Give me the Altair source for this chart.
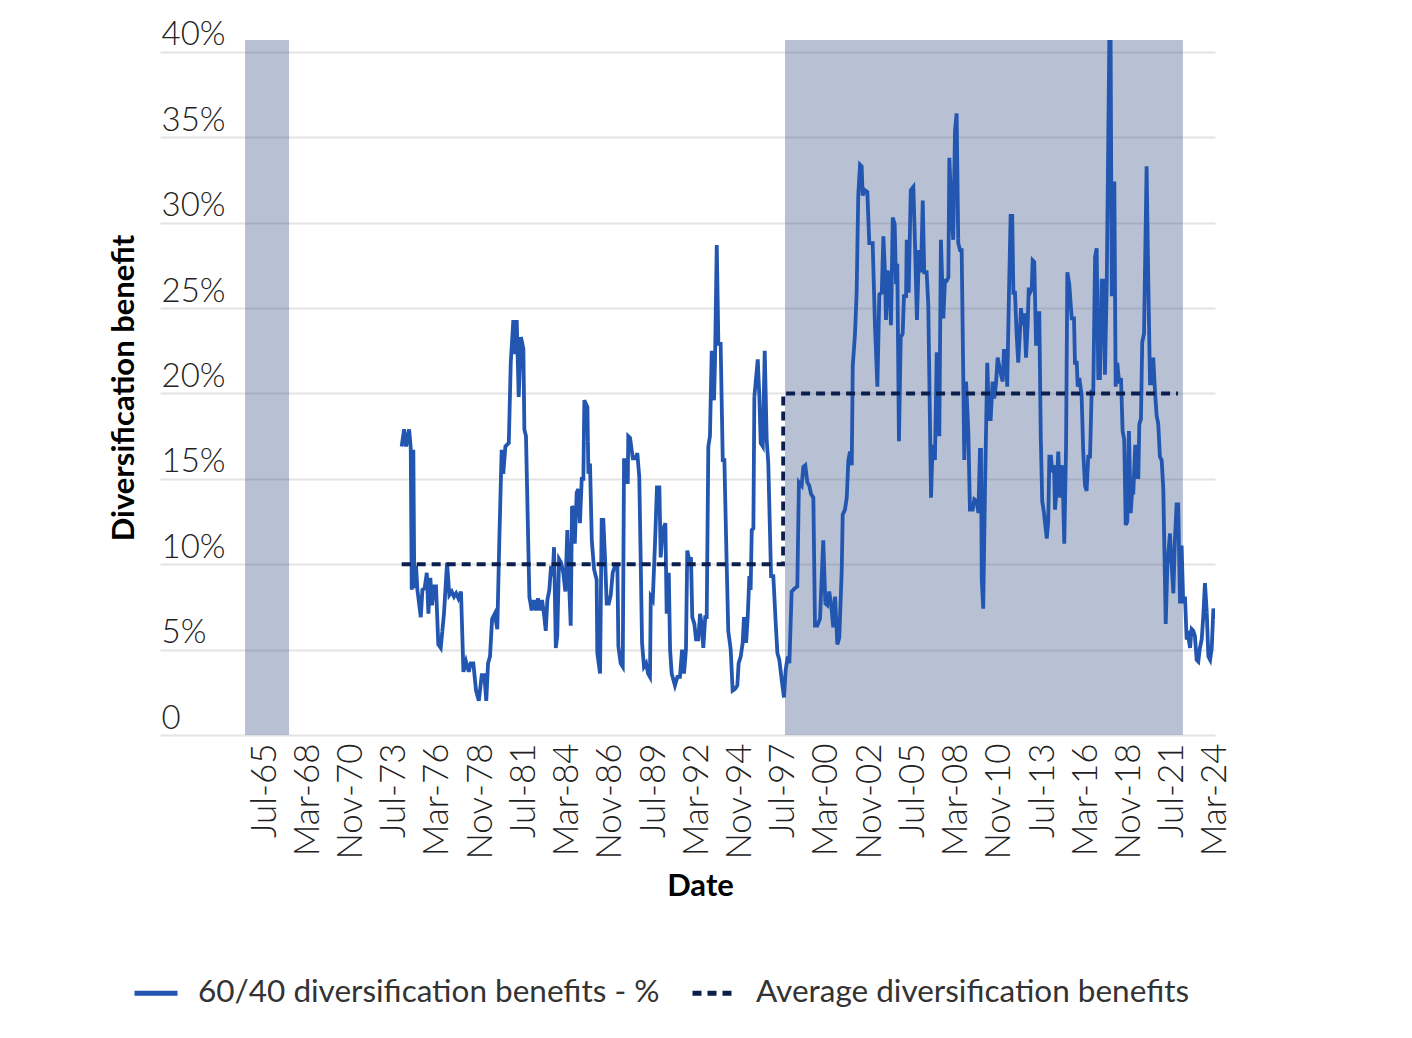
import altair as alt
import pandas as pd

# ---- data (decimal year, value in %) ----
T = [1973.99, 1974.14, 1974.26, 1974.45, 1974.55, 1974.61, 1974.71, 1974.77, 1974.88, 1974.96,
     1975.17, 1975.27, 1975.41, 1975.54, 1975.64, 1975.76, 1975.86, 1975.99, 1976.11, 1976.25,
     1976.40, 1976.60, 1976.79, 1976.93, 1977.08, 1977.22, 1977.35, 1977.49, 1977.65, 1977.80,
     1977.96, 1978.13, 1978.25, 1978.41, 1978.58, 1978.75, 1978.93, 1979.09, 1979.21, 1979.32,
     1979.44, 1979.57, 1979.73, 1979.89, 1980.02, 1980.16, 1980.26, 1980.39, 1980.60, 1980.72,
     1980.88, 1981.00, 1981.09, 1981.21, 1981.35, 1981.50, 1981.56, 1981.66, 1981.87, 1982.01,
     1982.16, 1982.28, 1982.40, 1982.53, 1982.65, 1982.77, 1982.88, 1982.98, 1983.10, 1983.21,
     1983.31, 1983.39, 1983.50, 1983.59, 1983.70, 1983.82, 1983.96, 1984.09, 1984.21, 1984.32,
     1984.42, 1984.50, 1984.61, 1984.67, 1984.79, 1984.89, 1984.99, 1985.10, 1985.20, 1985.26,
     1985.45, 1985.51, 1985.61, 1985.72, 1985.86, 1986.02, 1986.06, 1986.23, 1986.33, 1986.43,
     1986.54, 1986.64, 1986.77, 1986.89, 1987.01, 1987.15, 1987.30, 1987.36, 1987.50, 1987.63,
     1987.71, 1987.83, 1987.94, 1987.97, 1988.08, 1988.25, 1988.41, 1988.53, 1988.65, 1988.74,
     1988.82, 1988.94, 1989.07, 1989.19, 1989.31, 1989.36, 1989.48, 1989.62, 1989.74, 1989.89,
     1989.97, 1990.10, 1990.26, 1990.34, 1990.47, 1990.55, 1990.65, 1990.85, 1991.00, 1991.16,
     1991.29, 1991.41, 1991.53, 1991.61, 1991.74, 1991.84, 1991.92, 1992.05, 1992.15, 1992.29,
     1992.40, 1992.50, 1992.60, 1992.72, 1992.81, 1992.91, 1993.01, 1993.12, 1993.26, 1993.32,
     1993.43, 1993.53, 1993.67, 1993.80, 1993.90, 1994.04, 1994.14, 1994.29, 1994.41, 1994.56,
     1994.70, 1994.78, 1994.91, 1995.03, 1995.11, 1995.24, 1995.34, 1995.44, 1995.52, 1995.59,
     1995.69, 1995.75, 1995.96, 1996.06, 1996.14, 1996.27, 1996.39, 1996.51, 1996.61, 1996.78,
     1996.92, 1997.07, 1997.17, 1997.29, 1997.44, 1997.58, 1997.68, 1997.81, 1997.91, 1998.05,
     1998.26, 1998.40, 1998.50, 1998.67, 1998.77, 1998.89, 1999.02, 1999.14, 1999.25, 1999.39,
     1999.49, 1999.63, 1999.80, 2000.00, 2000.13, 2000.25, 2000.37, 2000.48, 2000.62, 2000.73,
     2000.87, 2000.99, 2001.14, 2001.20, 2001.34, 2001.45, 2001.55, 2001.65, 2001.76, 2001.82,
     2001.96, 2002.06, 2002.16, 2002.27, 2002.37, 2002.43, 2002.58, 2002.72, 2002.84, 2003.05,
     2003.19, 2003.34, 2003.46, 2003.61, 2003.71, 2003.81, 2003.87, 2003.98, 2004.08, 2004.18,
     2004.29, 2004.41, 2004.49, 2004.57, 2004.67, 2004.78, 2004.90, 2004.98, 2005.11, 2005.15,
     2005.27, 2005.40, 2005.56, 2005.66, 2005.78, 2005.91, 2006.03, 2006.14, 2006.23, 2006.38,
     2006.48, 2006.65, 2006.75, 2006.89, 2007.00, 2007.10, 2007.16, 2007.26, 2007.41, 2007.51,
     2007.62, 2007.72, 2007.78, 2007.92, 2008.02, 2008.13, 2008.23, 2008.33, 2008.44, 2008.54,
     2008.64, 2008.70, 2008.81, 2008.95, 2009.05, 2009.22, 2009.32, 2009.47, 2009.57, 2009.67,
     2009.73, 2009.78, 2009.87, 2009.98, 2010.12, 2010.23, 2010.33, 2010.45, 2010.55, 2010.66,
     2010.76, 2010.86, 2010.97, 2011.07, 2011.15, 2011.27, 2011.35, 2011.46, 2011.56, 2011.66,
     2011.73, 2011.83, 2011.93, 2012.03, 2012.14, 2012.20, 2012.30, 2012.40, 2012.51, 2012.61,
     2012.68, 2012.76, 2012.86, 2012.92, 2013.02, 2013.13, 2013.21, 2013.33, 2013.42, 2013.51,
     2013.62, 2013.79, 2013.88, 2013.95, 2014.05, 2014.13, 2014.24, 2014.30, 2014.40, 2014.50,
     2014.61, 2014.71, 2014.77, 2014.87, 2014.98, 2015.06, 2015.18, 2015.33, 2015.47, 2015.53,
     2015.64, 2015.70, 2015.80, 2015.94, 2016.04, 2016.15, 2016.25, 2016.35, 2016.46, 2016.56,
     2016.66, 2016.77, 2016.87, 2016.97, 2017.07, 2017.18, 2017.28, 2017.38, 2017.49, 2017.65,
     2017.73, 2017.80, 2017.89, 2017.96, 2018.04, 2018.14, 2018.26, 2018.37, 2018.47, 2018.57,
     2018.66, 2018.76, 2018.86, 2018.97, 2019.05, 2019.13, 2019.25, 2019.34, 2019.44, 2019.50,
     2019.60, 2019.68, 2019.79, 2019.95, 2020.05, 2020.16, 2020.26, 2020.36, 2020.47, 2020.57,
     2020.67, 2020.77, 2020.88, 2020.98, 2021.13, 2021.23, 2021.39, 2021.50, 2021.60, 2021.70,
     2021.80, 2021.90, 2022.01, 2022.11, 2022.21, 2022.32, 2022.42, 2022.52, 2022.63, 2022.73,
     2022.83, 2022.93, 2023.04, 2023.14, 2023.24, 2023.35, 2023.45, 2023.55, 2023.66, 2023.76,
     2023.87, 2023.97, 2024.07, 2024.17]

V = [16.9, 17.9, 16.9, 17.9, 16.8, 8.5, 16.7, 8.6, 9.9, 8.5,
     6.9, 8.5, 8.6, 9.5, 7.1, 9.2, 7.6, 8.7, 8.7, 5.3,
     5.1, 7.1, 10.1, 8.2, 8.4, 8.1, 8.3, 8.0, 8.4, 3.7,
     4.3, 3.7, 4.2, 4.2, 2.6, 2.0, 3.5, 3.5, 2.0, 4.2,
     4.6, 6.8, 7.1, 6.2, 11.6, 16.7, 15.3, 16.9, 17.1, 21.8,
     24.3, 22.3, 24.3, 19.8, 23.3, 22.6, 17.9, 17.5, 8.1, 7.3,
     7.9, 7.3, 8.0, 7.3, 7.9, 7.1, 6.1, 7.9, 8.5, 9.9,
     9.3, 11.0, 5.1, 5.8, 10.3, 10.1, 9.5, 8.4, 12.0, 8.9,
     6.4, 13.4, 13.2, 11.2, 14.2, 14.4, 12.4, 15.0, 15.0, 19.6,
     19.2, 15.3, 15.9, 11.4, 9.7, 9.1, 4.8, 3.6, 12.6, 12.6,
     10.3, 7.7, 7.7, 8.2, 9.5, 9.9, 9.9, 5.2, 4.2, 4.0,
     16.1, 16.1, 14.7, 17.5, 17.4, 16.2, 16.2, 16.5, 15.1, 10.1,
     5.4, 4.0, 4.2, 3.6, 3.4, 8.1, 7.9, 11.2, 14.5, 14.5,
     10.4, 12.0, 12.4, 7.1, 9.5, 5.0, 3.6, 2.9, 3.4, 3.4,
     5.0, 3.6, 5.0, 10.8, 10.2, 10.4, 6.9, 6.5, 5.6, 5.6,
     7.1, 6.5, 5.1, 6.9, 6.9, 16.9, 17.5, 22.5, 19.6, 21.8,
     28.7, 22.9, 22.9, 16.1, 16.1, 10.1, 6.1, 5.0, 2.6, 2.7,
     2.9, 4.2, 4.6, 5.4, 6.9, 5.4, 6.9, 9.3, 8.5, 12.0,
     12.1, 19.8, 22.0, 19.8, 17.1, 16.9, 22.5, 17.3, 15.9, 9.3,
     9.3, 6.5, 4.8, 4.4, 3.2, 2.2, 3.8, 4.6, 4.2, 8.4,
     8.6, 8.7, 14.8, 14.6, 15.7, 15.8, 14.8, 14.6, 14.1, 13.9,
     6.4, 6.4, 6.8, 11.4, 7.7, 7.6, 8.4, 7.7, 6.3, 8.1,
     5.3, 5.7, 9.6, 12.9, 13.2, 13.9, 16.1, 16.6, 15.8, 21.6,
     23.5, 25.9, 31.6, 33.4, 33.3, 31.6, 31.9, 31.8, 28.8, 28.8,
     24.0, 20.4, 25.8, 25.9, 29.2, 27.1, 24.3, 27.2, 26.4, 24.0,
     30.3, 29.9, 26.4, 27.6, 17.2, 23.3, 23.5, 25.7, 25.7, 29.0,
     25.9, 31.9, 32.1, 28.8, 24.3, 28.4, 27.1, 31.3, 27.1, 27.1,
     25.2, 13.9, 17.0, 16.1, 22.3, 22.3, 17.5, 29.0, 24.4, 26.6,
     26.6, 26.8, 33.8, 30.4, 29.0, 35.4, 36.4, 28.8, 28.4, 28.4,
     20.9, 16.1, 20.7, 17.8, 13.2, 13.2, 13.8, 13.7, 13.0, 16.7,
     16.7, 9.1, 7.4, 14.4, 21.8, 18.5, 18.5, 20.7, 19.7, 20.6,
     22.1, 21.6, 21.1, 20.7, 22.5, 22.5, 20.4, 25.9, 30.4, 30.4,
     25.9, 25.9, 23.5, 21.8, 23.7, 25.0, 24.0, 24.7, 22.1, 24.0,
     26.2, 25.9, 26.1, 27.8, 27.7, 22.8, 24.7, 24.7, 17.5, 13.7,
     13.0, 11.5, 12.5, 16.3, 16.3, 15.4, 15.8, 13.2, 14.4, 16.6,
     13.9, 15.8, 15.1, 11.2, 16.8, 27.1, 26.4, 24.4, 24.4, 21.8,
     21.8, 20.4, 20.9, 19.9, 16.6, 14.6, 14.3, 16.3, 16.3, 20.1,
     20.1, 28.0, 28.5, 20.9, 20.9, 26.6, 26.6, 21.1, 26.4, 40.7,
     40.7, 25.7, 32.3, 32.3, 20.4, 21.8, 20.6, 20.9, 17.8, 17.3,
     12.3, 12.5, 17.8, 13.0, 14.2, 14.2, 17.0, 15.1, 15.1, 18.2,
     18.5, 23.0, 23.5, 33.3, 26.8, 20.6, 20.6, 22.1, 20.1, 18.7,
     18.2, 16.3, 16.1, 14.4, 6.5, 9.9, 11.8, 9.9, 8.3, 11.5,
     13.5, 13.5, 7.7, 11.1, 7.7, 8.1, 5.6, 5.8, 5.1, 6.2,
     6.1, 5.8, 4.4, 4.3, 5.1, 5.6, 7.0, 8.9, 7.2, 4.6,
     4.4, 5.1, 7.4, 6.8]

AVG_T = [1973.99, 1997.52, 1997.53, 2021.89]
AVG_V = [10.0, 10.0, 20.0, 20.0]

SHADE_START = [1964.33, 1997.64]
SHADE_END = [1967.04, 2022.19]

TICK_LABELS = ["Jul-65", "Mar-68", "Nov-70", "Jul-73", "Mar-76", "Nov-78", "Jul-81",
               "Mar-84", "Nov-86", "Jul-89", "Mar-92", "Nov-94", "Jul-97", "Mar-00",
               "Nov-02", "Jul-05", "Mar-08", "Nov-10", "Jul-13", "Mar-16", "Nov-18",
               "Jul-21", "Mar-24"]

SERIES = ["60/40 diversification benefits - %", "Average diversification benefits"]

# ---- tables ----
tick_pos = [1965.5 + k * 32 / 12 for k in range(len(TICK_LABELS))]
label_expr = "[" + ",".join("'%s'" % s for s in TICK_LABELS) + "][round((datum.value - 1965.5) * 12 / 32)]"

rows = [{"t": t, "v": v / 100, "series": SERIES[0]} for t, v in zip(T, V)]
rows += [{"t": t, "v": v / 100, "series": SERIES[1]} for t, v in zip(AVG_T, AVG_V)]
df = pd.DataFrame(rows)

YMAX = 0.407
shade_df = pd.DataFrame({"start": SHADE_START, "end": SHADE_END,
                         "lo": [0.0] * len(SHADE_START), "hi": [YMAX] * len(SHADE_START)})

FONT = "Lato"
xscale = alt.Scale(domain=[1959.08, 2024.17], nice=False, zero=False)
yscale = alt.Scale(domain=[0, YMAX], nice=False)

xaxis = alt.Axis(values=tick_pos, labelExpr=label_expr, labelAngle=270, labelFont=FONT,
                 labelFontSize=35, labelFontWeight=300, labelColor="#222", labelPadding=8,
                 labelOverlap=False, labelFlush=False, grid=False, domain=False, ticks=False,
                 tickSize=0, title="Date", titleFont=FONT, titleFontSize=31,
                 titleFontWeight="bold", titleColor="#000", titlePadding=12, titleX=540)

yaxis = alt.Axis(values=[i * 0.05 for i in range(9)],
                 labelExpr="datum.value == 0 ? '0' : format(datum.value, '.0%')",
                 labelAlign="left", labelBaseline="alphabetic", labelPadding=-1, labelOffset=-7,
                 labelFont=FONT, labelFontSize=33, labelFontWeight=300, labelColor="#222",
                 grid=True, gridColor="#e3e3e3", gridWidth=2, domain=False, ticks=False,
                 tickSize=0, title="Diversification benefit", titleFont=FONT, titleFontSize=31,
                 titleFontWeight="bold", titleColor="#000", titlePadding=20)

shade = alt.Chart(shade_df).mark_rect(color="#4a6491", opacity=0.4).encode(
    x=alt.X("start:Q", scale=xscale, axis=xaxis),
    x2="end:Q",
    y=alt.Y("lo:Q", scale=yscale, axis=yaxis),
    y2="hi:Q",
)

legend = alt.Legend(title=None, orient="none", legendX=-28, legendY=929, direction="horizontal",
                    labelFont=FONT, labelFontSize=31.5, labelColor="#333", labelLimit=0,
                    symbolType="stroke", symbolSize=1849, symbolStrokeWidth=5,
                    labelOffset=18, columnPadding=22)

lines = alt.Chart(df).mark_line(strokeWidth=3.8, clip=True).encode(
    x=alt.X("t:Q", scale=xscale),
    y=alt.Y("v:Q", scale=yscale),
    color=alt.Color("series:N", scale=alt.Scale(domain=SERIES, range=["#2356b0", "#0b1f4f"]),
                    legend=legend),
    strokeDash=alt.StrokeDash("series:N", scale=alt.Scale(domain=SERIES, range=[[1, 0], [9, 6]]),
                              legend=legend),
)

chart = alt.layer(shade, lines).properties(
    width=1055, height=695,
    padding={"left": 152, "top": 32, "right": 150, "bottom": 300},
    autosize=alt.AutoSizeParams(type="none"),
).configure_view(strokeWidth=0)

chart.save("out.html", embed_options={"renderer": "svg", "actions": False})
